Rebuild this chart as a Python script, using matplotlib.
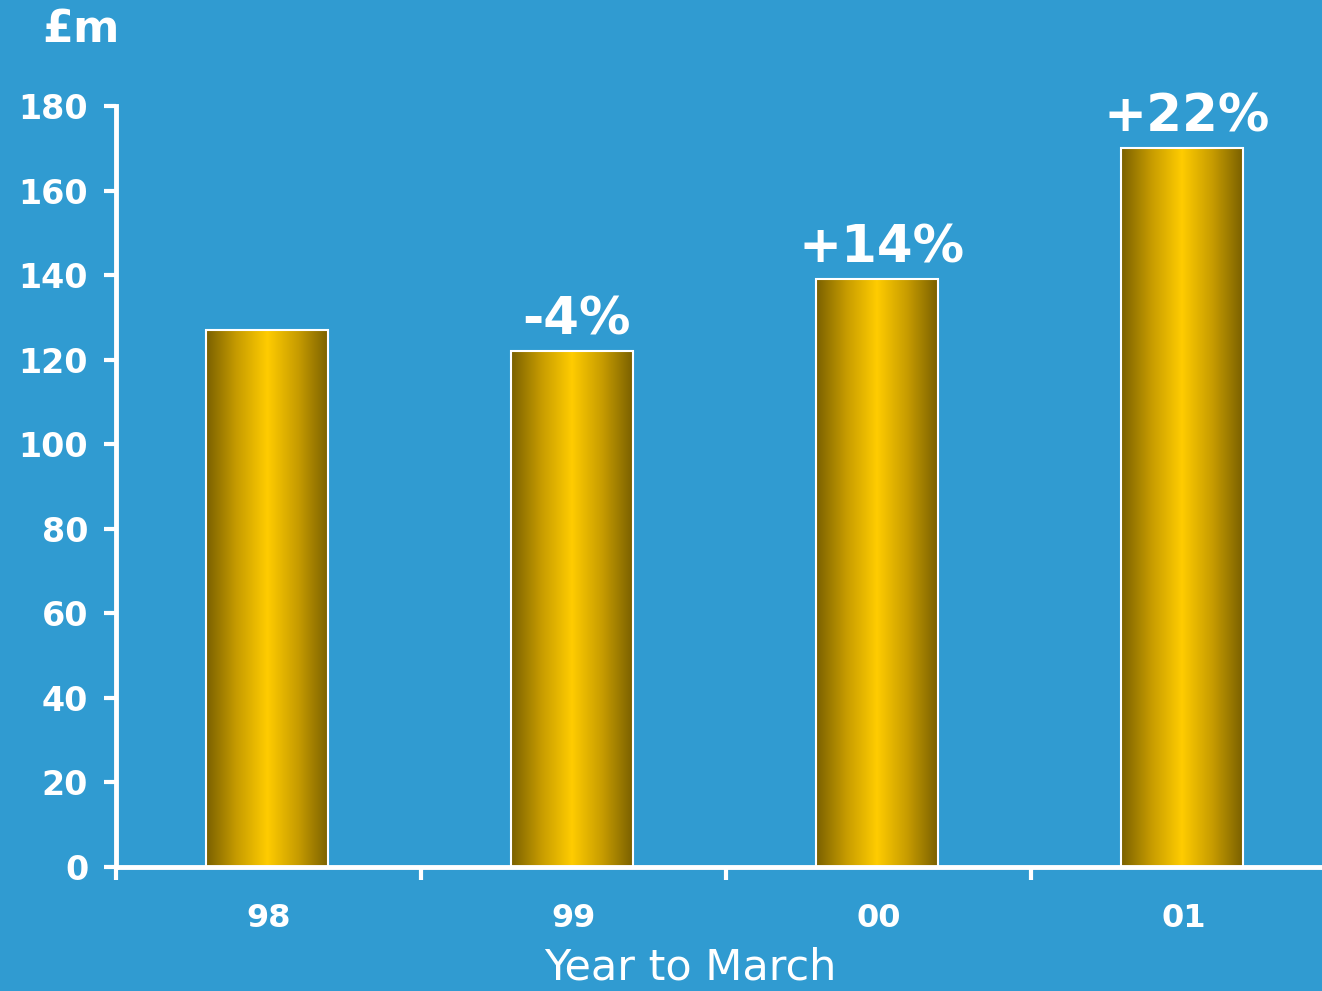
import numpy as np
import matplotlib.pyplot as plt
from matplotlib.colors import LinearSegmentedColormap

# datos
years = ['98', '99', '00', '01']
profit = [127, 122, 139, 170]
growth = ['', '-4%', '+14%', '+22%']

bg = '#309bd1'
gold = LinearSegmentedColormap.from_list('gold', ['#7a6000', '#c79c00', '#ffcc00', '#c79c00', '#7a6000'])

fig = plt.figure(figsize=(13.22, 9.91), dpi=100, facecolor=bg)
ax = fig.add_axes([116 / 1322, 124 / 991, 1220 / 1322, 761 / 991], facecolor=bg)

x = np.arange(len(years))
w = 0.4
bars = ax.bar(x - 0.005, profit, width=w, color='none', edgecolor='white', linewidth=1.5, zorder=3)

grad = np.linspace(0, 1, 256).reshape(1, -1)
for b in bars:
    im = ax.imshow(grad, cmap=gold, aspect='auto', zorder=2,
                   extent=[b.get_x(), b.get_x() + b.get_width(), 0, b.get_height()])
    im.set_clip_path(b)

for xi, v, g in zip(x, profit, growth):
    if g:
        ax.annotate(g, (xi + 0.01, v), xytext=(0, 4), textcoords='offset points',
                    ha='center', va='bottom', color='white', fontsize=37, fontweight='bold')

ax.set_xlim(-0.5, 3.5)
ax.set_ylim(0, 180)
ax.set_yticks(range(0, 181, 20))
ax.set_xticks(x)
ax.set_xticklabels(years)
ax.set_xticks(np.arange(-0.5, 3.5, 1), minor=True)
ax.tick_params(axis='x', which='major', length=0, pad=26, labelsize=23, labelcolor='white')
ax.tick_params(axis='x', which='minor', length=9, width=3, color='white', direction='out')
ax.tick_params(axis='y', length=9, width=3, color='white', labelsize=24, labelcolor='white', pad=11)
for lab in ax.get_xticklabels() + ax.get_yticklabels():
    lab.set_fontweight('bold')

for s in ['top', 'right']:
    ax.spines[s].set_visible(False)
for s in ['left', 'bottom']:
    ax.spines[s].set_color('white')
    ax.spines[s].set_linewidth(3.5)

fig.text(42 / 1322, 1 - 30 / 991, '£m', color='white', fontsize=32, fontweight='bold', va='center')
fig.text(690 / 1322, 1 - 968 / 991, 'Year to March', color='white', fontsize=31, ha='center', va='center')

plt.savefig('out.png', dpi=100, facecolor=bg)
